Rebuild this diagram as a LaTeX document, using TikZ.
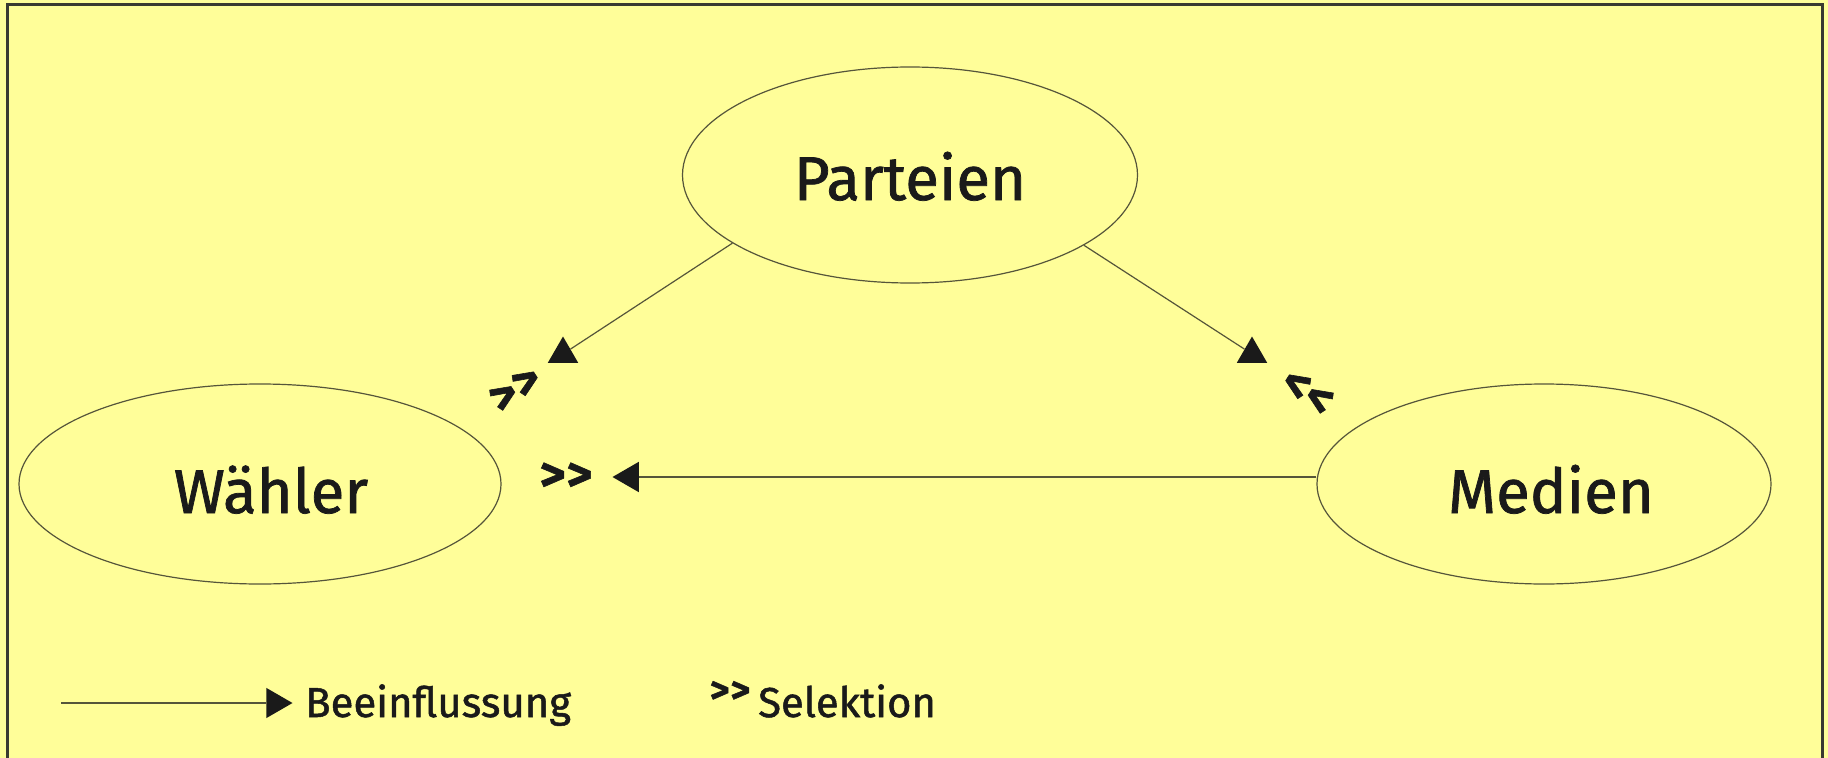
\documentclass[tikz,border=0pt]{standalone}
\usepackage{fontspec}
\setmainfont{Fira Sans}[FakeBold=1.2]
\usetikzlibrary{shapes.geometric}
\definecolor{bgyellow}{HTML}{FFFE99}
\definecolor{framegray}{HTML}{3A3A30}
\definecolor{linegray}{HTML}{55553A}
\definecolor{ink}{HTML}{1A1A1A}
\begin{document}
\begin{tikzpicture}[x=1bp,y=-1bp,
  ell/.style={ellipse, draw=linegray, line width=1.2bp, inner sep=0pt, text=ink,
    font=\fontsize{62}{66}\selectfont},
  tri/.style={regular polygon, regular polygon sides=3, fill=ink, draw=none,
    inner sep=0pt, minimum size=35bp},
  con/.style={draw=linegray, line width=1.2bp},
  sel/.style={font=\fontsize{50}{50}\selectfont\bfseries, text=ink, inner sep=0pt},
  legsel/.style={font=\fontsize{38}{38}\selectfont\bfseries, text=ink, inner sep=0pt},
  leg/.style={font=\fontsize{42}{46}\selectfont, text=ink, inner sep=0pt}]
\fill[bgyellow] (0,0) rectangle (1828,758);
\useasboundingbox (0,0) rectangle (1828,758);
\draw[framegray, line width=3bp] (7,758) -- (7,5) -- (1822,5) -- (1822,758);

\node[ell, minimum width=455bp, minimum height=216bp, text height=50bp, text depth=0pt] (P) at (910,175) {Parteien};
\node[ell, minimum width=482bp, minimum height=200bp, text height=58bp, text depth=0pt] (W) at (260,484) {\hspace*{22bp}Wähler};
\node[ell, minimum width=454bp, minimum height=200bp, text height=58bp, text depth=0pt] (M) at (1544,484) {\hspace*{14bp}Medien};

\node[tri] (tL) at (563,354) {};
\node[tri] (tR) at (1252,354) {};
\node[tri, shape border rotate=90] (tH) at (630,477) {};
\node[tri, shape border rotate=-90] (tLeg) at (275,703) {};

\draw[con] (P.201.5) -- (tL);
\draw[con] (P.338) -- (tR);
\draw[con] (tH -| M.west) -- (tH);
\coordinate (legS) at (61,703);
\draw[con] (legS) -- (tLeg);

\node[sel, rotate=33] (sL) at (516,390) {>\kern1bp>};
\node[sel, rotate=-33] (sR) at (1307,393) {<\kern1bp<};
\node[sel] (sH) at (566,477) {>\kern1bp>};

\node[leg, anchor=base west] (lb) at (305,717) {Beeinflussung};
\node[legsel] (ls) at (730,692) {>\kern1bp>};
\node[leg, anchor=base west] (lsel) at (758,717) {Selektion};
\end{tikzpicture}
\end{document}
